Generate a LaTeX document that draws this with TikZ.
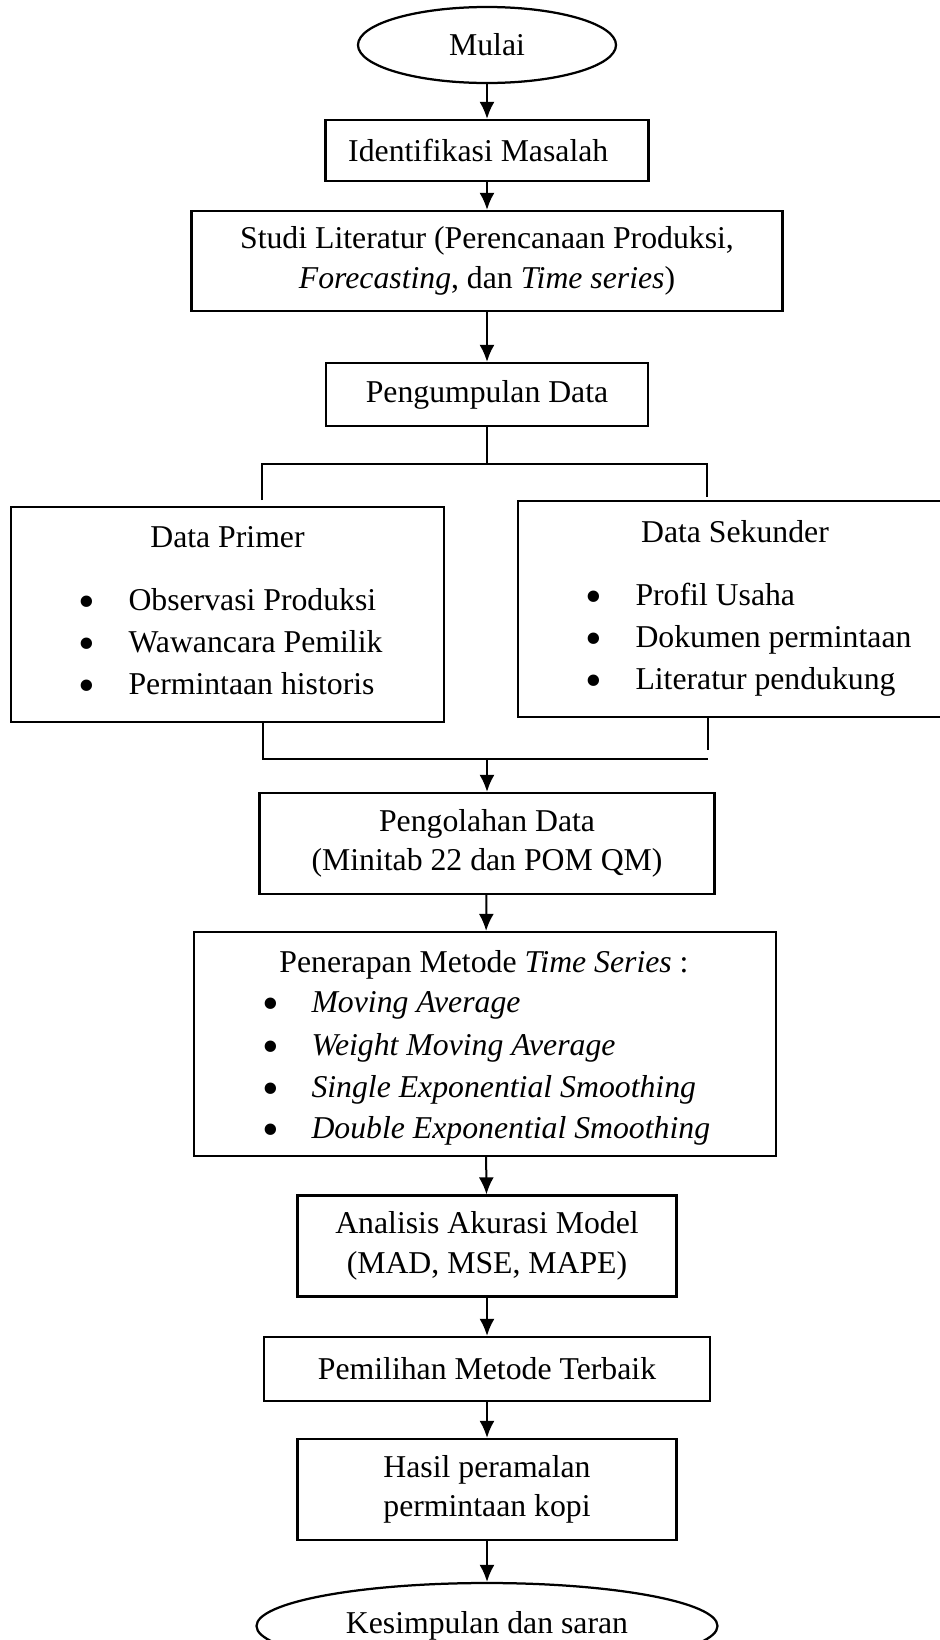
\documentclass[tikz,border=0pt]{standalone}
\usepackage{fontspec}
\usepackage{graphicx}
\setmainfont{Liberation Serif}
\usetikzlibrary{shapes.geometric,arrows.meta}
\newcommand{\titik}[1]{\makebox[#1][l]{\raisebox{-2.8pt}{\scalebox{1.5}{\textbullet}}}}
\begin{document}
\begin{tikzpicture}[x=0.4pt,y=-0.4pt,font=\fontsize{12.7}{15.8}\selectfont,
kotak/.style={draw,line width=0.9pt,align=center,inner sep=0pt},
bulat/.style={draw,ellipse,line width=0.9pt,inner sep=0pt},
panah/.style={-{Latex[length=6.8pt,width=6pt]},line width=0.8pt},
garis/.style={line width=0.7pt},
judul/.style={anchor=base,inner sep=0pt},
butir/.style={anchor=base west,inner sep=0pt}]
\useasboundingbox (0,0) rectangle (940,1640);
\node[bulat,minimum width=103.2pt,minimum height=30.4pt](mulai) at (487,45) {Mulai};
\node[kotak,minimum width=129.2pt,minimum height=24.4pt](identifikasi) at (487,150.5) {Identifikasi Masalah\hspace{7pt}};
\node[kotak,minimum width=236.4pt,minimum height=40pt](studi) at (487,261) {Studi Literatur (Perencanaan Produksi,\\\textit{Forecasting}, dan \textit{Time series})};
\node[kotak,minimum width=128.8pt,minimum height=25.2pt](kumpul) at (487,394.5) {Pengumpulan Data};
\node[kotak,minimum width=173.2pt,minimum height=86pt](primer) at (227.5,614.5) {};
\node[judul](primerjudul) at (227.5,547) {Data Primer};
\node[butir](primer1) at (77.5,610) {\titik{20.2pt}Observasi Produksi};
\node[butir](primer2) at (77.5,652) {\titik{20.2pt}Wawancara Pemilik};
\node[butir](primer3) at (77.5,694) {\titik{20.2pt}Permintaan historis};
\node[kotak,minimum width=176.8pt,minimum height=86.4pt](sekunder) at (739,609) {};
\node[judul](sekunderjudul) at (735,542) {Data Sekunder};
\node[butir](sekunder1) at (584.5,605) {\titik{20.2pt}Profil Usaha};
\node[butir](sekunder2) at (584.5,647) {\titik{20.2pt}Dokumen permintaan};
\node[butir](sekunder3) at (584.5,689) {\titik{20.2pt}Literatur pendukung};
\node[kotak,minimum width=182pt,minimum height=40.4pt](olah) at (487,843.5) {Pengolahan Data\\(Minitab 22 dan POM QM)};
\node[kotak,minimum width=232.8pt,minimum height=89.6pt](terap) at (485,1044) {};
\node[judul](terapjudul) at (484,972) {Penerapan Metode \textit{Time Series} :};
\node[butir](terap1) at (261.5,1012) {\titik{19.8pt}\textit{Moving Average}};
\node[butir](terap2) at (261.5,1055) {\titik{19.8pt}\textit{Weight Moving Average}};
\node[butir](terap3) at (261.5,1097) {\titik{19.8pt}\textit{Single Exponential Smoothing}};
\node[butir](terap4) at (261.5,1138) {\titik{19.8pt}\textit{Double Exponential Smoothing}};
\node[kotak,minimum width=151.6pt,minimum height=40.4pt](analisis) at (487,1246) {Analisis Akurasi Model\\(MAD, MSE, MAPE)};
\node[kotak,minimum width=178.4pt,minimum height=25.6pt](pilih) at (487,1369) {Pemilihan Metode Terbaik};
\node[kotak,minimum width=151.6pt,minimum height=40.4pt](hasil) at (487,1489.5) {Hasil peramalan\\permintaan kopi};
\node[bulat,minimum width=184.4pt,minimum height=34.4pt](selesai) at (487,1626) {Kesimpulan dan saran};
% cabang data
\coordinate (cabang) at (487,464);
\coordinate (kiriatas) at (262,464);
\coordinate (kananatas) at (707,464);
\coordinate (kiriujung) at (262,500);
\coordinate (kananujung) at (707,497);
\coordinate (kiribawah) at (263,759);
\coordinate (kananbawah) at (708,759);
\coordinate (kananakhir) at (708,750);
\draw[panah](mulai)--(identifikasi);
\draw[panah](identifikasi)--(studi);
\draw[panah](studi)--(kumpul);
\draw[garis](kumpul)--(cabang);
\draw[garis](kiriujung)--(kiriatas)--(kananatas)--(kananujung);
\draw[garis](primer.south-|kiribawah)--(kiribawah)--(kananbawah);
\draw[garis](sekunder.south-|kananakhir)--(kananakhir);
\draw[panah](kiribawah-|olah)--(olah);
\draw[panah](olah)--(terap);
\draw[panah](terap)--(analisis);
\draw[panah](analisis)--(pilih);
\draw[panah](pilih)--(hasil);
\draw[panah](hasil)--(selesai);
\end{tikzpicture}
\end{document}
